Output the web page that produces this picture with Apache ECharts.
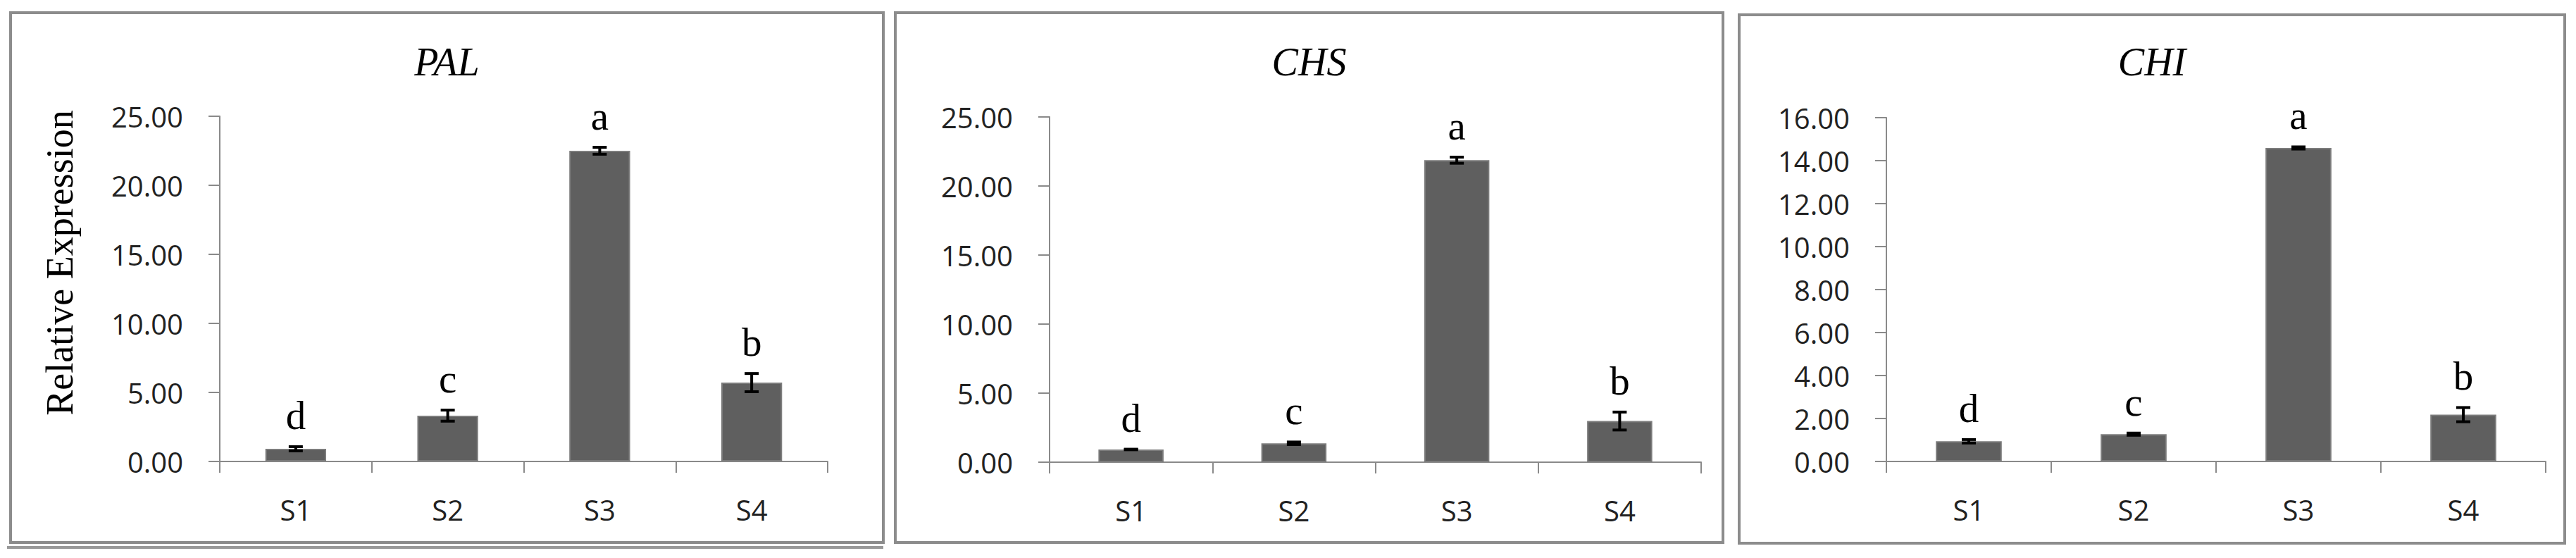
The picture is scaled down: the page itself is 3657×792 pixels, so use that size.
<!DOCTYPE html>
<html>
<head>
<meta charset="utf-8">
<script src="https://cdn.jsdelivr.net/npm/echarts@6/dist/echarts.min.js"></script>
<style>
html,body{margin:0;padding:0;background:#fff;}
#chart{width:3657px;height:792px;}
</style>
</head>
<body>
<div id="chart"></div>
<script>
const categories = ['S1', 'S2', 'S3', 'S4'];
const panelTitles = ['PAL', 'CHS', 'CHI'];
const yAxisTitle = 'Relative Expression';

const palValues = [0.92, 3.32, 22.5, 5.71];
const palErrors = [0.15, 0.40, 0.25, 0.66];
const palLetters = ['d', 'c', 'a', 'b'];

const chsValues = [0.92, 1.37, 21.87, 2.98];
const chsErrors = [0.02, 0.09, 0.22, 0.65];
const chsLetters = ['d', 'c', 'a', 'b'];

const chiValues = [0.94, 1.27, 14.59, 2.18];
const chiErrors = [0.08, 0.05, 0.05, 0.33];
const chiLetters = ['d', 'c', 'a', 'b'];

const yMax = [25, 25, 16];
const yInterval = [5, 5, 2];

const panelValues = [palValues, chsValues, chiValues];
const panelErrors = [palErrors, chsErrors, chiErrors];
const panelLetters = [palLetters, chsLetters, chiLetters];

const grids = [
  {left: 312, top: 165, width: 863, height: 490},
  {left: 1490, top: 166, width: 925, height: 490},
  {left: 2678, top: 167, width: 936, height: 488}
];
const panelBoxes = [
  {x: 15, y: 18, w: 1239, h: 752},
  {x: 1271, y: 18, w: 1175, h: 752},
  {x: 2469, y: 21, w: 1172, h: 750}
];

const tickFont = "'Open Sans', 'DejaVu Sans', sans-serif";
const serifFont = "'Liberation Serif', 'DejaVu Serif', serif";
const axisGray = '#8a8a8a';

const chart = echarts.init(document.getElementById('chart'), null, {renderer: 'svg'});

const xAxes = [], yAxes = [], series = [], titles = [];
for (let p = 0; p < 3; p++) {
  const panelCenter = panelBoxes[p].x + panelBoxes[p].w / 2;
  titles.push({
    text: panelTitles[p],
    left: panelCenter,
    top: 60,
    textAlign: 'center',
    padding: 0,
    textStyle: {fontFamily: serifFont, fontStyle: 'italic', fontWeight: 'normal', fontSize: 56, color: '#000'}
  });
  xAxes.push({
    type: 'category', gridIndex: p, data: categories,
    axisLine: {show: true, lineStyle: {color: axisGray, width: 2}},
    axisTick: {show: true, length: 16, lineStyle: {color: axisGray, width: 2}},
    axisLabel: {margin: 48, fontFamily: tickFont, fontSize: 40, color: '#222'},
    splitLine: {show: false}
  });
  yAxes.push({
    type: 'value', gridIndex: p, min: 0, max: yMax[p], interval: yInterval[p],
    name: p === 0 ? yAxisTitle : '',
    nameLocation: 'middle', nameGap: 200,
    nameTextStyle: {fontFamily: serifFont, fontSize: 54, color: '#000', padding: [0, 0, 0, 74]},
    axisLine: {show: true, lineStyle: {color: axisGray, width: 2}},
    axisTick: {show: true, length: 16, lineStyle: {color: axisGray, width: 2}},
    axisLabel: {margin: 52, fontFamily: tickFont, fontSize: 40, color: '#222',
      formatter: v => v.toFixed(2)},
    splitLine: {show: false}
  });
  series.push({
    type: 'bar', xAxisIndex: p, yAxisIndex: p,
    data: panelValues[p],
    barWidth: '40%',
    itemStyle: {color: '#5f5f5f', borderColor: '#7c7c7c', borderWidth: 2},
    silent: true
  });
  const letters = panelLetters[p];
  series.push({
    type: 'custom', xAxisIndex: p, yAxisIndex: p,
    data: panelValues[p].map((v, i) => [i, v, panelErrors[p][i]]),
    z: 10,
    renderItem: function (params, api) {
      const i = api.value(0), v = api.value(1), e = api.value(2);
      const top = api.coord([i, v + e]);
      const bot = api.coord([i, v - e]);
      const hw = 10;
      const ls = {stroke: '#000', lineWidth: 4};
      return {
        type: 'group',
        children: [
          {type: 'line', shape: {x1: top[0], y1: top[1], x2: bot[0], y2: bot[1]}, style: ls},
          {type: 'line', shape: {x1: top[0] - hw, y1: top[1], x2: top[0] + hw, y2: top[1]}, style: ls},
          {type: 'line', shape: {x1: bot[0] - hw, y1: bot[1], x2: bot[0] + hw, y2: bot[1]}, style: ls},
          {type: 'text', x: top[0], y: top[1] - 16,
            style: {text: letters[params.dataIndex], x: 0, y: 0, fill: '#000',
              font: "normal 57px 'Liberation Serif', 'DejaVu Serif', serif",
              align: 'center', verticalAlign: 'bottom'}}
        ]
      };
    }
  });
}

const graphics = panelBoxes.map(b => ({
  type: 'rect', shape: {x: b.x, y: b.y, width: b.w, height: b.h},
  style: {fill: 'none', stroke: '#8c8c8c', lineWidth: 4}, silent: true
}));
graphics.push({
  type: 'line', shape: {x1: 10, y1: 777, x2: 1254, y2: 777},
  style: {stroke: '#999', lineWidth: 4}, silent: true
});

chart.setOption({
  animation: false,
  backgroundColor: '#fff',
  title: titles,
  grid: grids,
  xAxis: xAxes,
  yAxis: yAxes,
  series: series,
  graphic: graphics
});
</script>
</body>
</html>
